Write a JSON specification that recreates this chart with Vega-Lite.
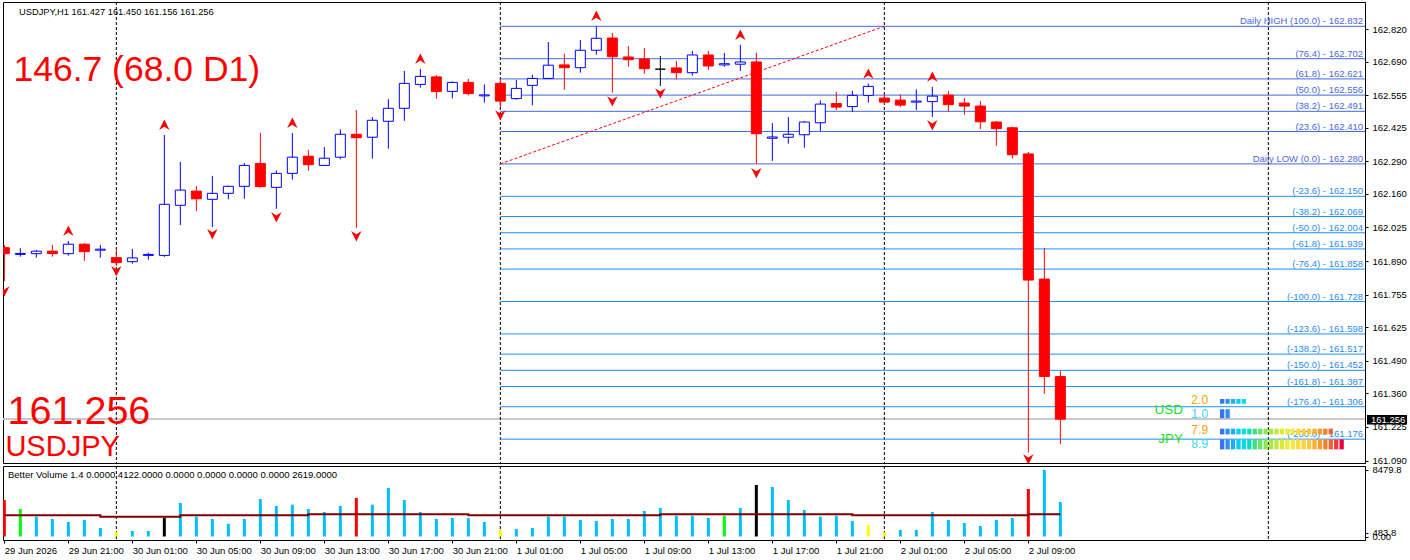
{
  "$schema": "https://vega.github.io/schema/vega-lite/v6.json",
  "background": "white",
  "padding": {"left": 2, "top": 1, "right": 0, "bottom": 0},
  "spacing": 3,
  "bounds": "flush",
  "config": {
    "view": {"stroke": "black", "strokeWidth": 1},
    "font": "Liberation Sans",
    "text": {"font": "Liberation Sans"},
    "scale": {"continuousPadding": 0},
    "axis": {"labelFont": "Liberation Sans", "labelColor": "black", "domainColor": "black", "tickColor": "black", "grid": false, "title": null, "labelOverlap": false, "labelFlush": false, "labelFontSize": 9.5, "tickCount": 200}
  },
  "resolve": {"scale": {"x": "independent", "y": "independent", "color": "independent", "shape": "independent"}},
  "datasets": {
    "candles": [
      {"t":"2026-06-29T17:00","o":161.944,"h":161.955,"l":161.810,"c":161.920,"v":4654,"cat":"climax high","a":2703},
      {"t":"2026-06-29T18:00","o":161.917,"h":161.942,"l":161.908,"c":161.921,"v":3506,"cat":"churn","a":2703},
      {"t":"2026-06-29T19:00","o":161.920,"h":161.935,"l":161.904,"c":161.930,"v":2529,"cat":"neutral","a":2703},
      {"t":"2026-06-29T20:00","o":161.930,"h":161.955,"l":161.908,"c":161.920,"v":2231,"cat":"neutral","a":2703},
      {"t":"2026-06-29T21:00","o":161.920,"h":161.971,"l":161.912,"c":161.958,"v":1849,"cat":"neutral","a":2703},
      {"t":"2026-06-29T22:00","o":161.958,"h":161.962,"l":161.891,"c":161.928,"v":2104,"cat":"neutral","a":2703},
      {"t":"2026-06-29T23:00","o":161.934,"h":161.955,"l":161.904,"c":161.938,"v":1084,"cat":"neutral","a":2512},
      {"t":"2026-06-30T00:00","o":161.904,"h":161.938,"l":161.871,"c":161.884,"v":612,"cat":"low volume","a":2512},
      {"t":"2026-06-30T01:00","o":161.888,"h":161.939,"l":161.880,"c":161.903,"v":701,"cat":"neutral","a":2512},
      {"t":"2026-06-30T02:00","o":161.913,"h":161.924,"l":161.896,"c":161.917,"v":701,"cat":"neutral","a":2512},
      {"t":"2026-06-30T03:00","o":161.913,"h":162.396,"l":161.907,"c":162.118,"v":2397,"cat":"climax low","a":2512},
      {"t":"2026-06-30T04:00","o":162.114,"h":162.288,"l":162.035,"c":162.175,"v":4271,"cat":"neutral","a":2703},
      {"t":"2026-06-30T05:00","o":162.171,"h":162.191,"l":162.091,"c":162.140,"v":2529,"cat":"neutral","a":2703},
      {"t":"2026-06-30T06:00","o":162.138,"h":162.232,"l":162.027,"c":162.162,"v":2231,"cat":"neutral","a":2703},
      {"t":"2026-06-30T07:00","o":162.162,"h":162.193,"l":162.138,"c":162.190,"v":1632,"cat":"neutral","a":2703},
      {"t":"2026-06-30T08:00","o":162.190,"h":162.284,"l":162.140,"c":162.274,"v":2231,"cat":"neutral","a":2703},
      {"t":"2026-06-30T09:00","o":162.282,"h":162.404,"l":162.185,"c":162.189,"v":4781,"cat":"neutral","a":2703},
      {"t":"2026-06-30T10:00","o":162.186,"h":162.254,"l":162.100,"c":162.242,"v":3889,"cat":"neutral","a":2703},
      {"t":"2026-06-30T11:00","o":162.242,"h":162.404,"l":162.217,"c":162.307,"v":4054,"cat":"neutral","a":2703},
      {"t":"2026-06-30T12:00","o":162.311,"h":162.336,"l":162.253,"c":162.277,"v":3506,"cat":"neutral","a":2830},
      {"t":"2026-06-30T13:00","o":162.274,"h":162.348,"l":162.272,"c":162.303,"v":3124,"cat":"neutral","a":2830},
      {"t":"2026-06-30T14:00","o":162.307,"h":162.419,"l":162.299,"c":162.399,"v":3889,"cat":"neutral","a":2830},
      {"t":"2026-06-30T15:00","o":162.399,"h":162.496,"l":162.024,"c":162.385,"v":4909,"cat":"climax high","a":2830},
      {"t":"2026-06-30T16:00","o":162.387,"h":162.468,"l":162.301,"c":162.455,"v":4054,"cat":"neutral","a":2830},
      {"t":"2026-06-30T17:00","o":162.451,"h":162.540,"l":162.341,"c":162.503,"v":6184,"cat":"neutral","a":2830},
      {"t":"2026-06-30T18:00","o":162.503,"h":162.653,"l":162.453,"c":162.603,"v":4654,"cat":"neutral","a":2830},
      {"t":"2026-06-30T19:00","o":162.599,"h":162.661,"l":162.586,"c":162.631,"v":3124,"cat":"neutral","a":2830},
      {"t":"2026-06-30T20:00","o":162.629,"h":162.637,"l":162.542,"c":162.570,"v":2231,"cat":"neutral","a":2830},
      {"t":"2026-06-30T21:00","o":162.571,"h":162.611,"l":162.543,"c":162.607,"v":2359,"cat":"neutral","a":2830},
      {"t":"2026-06-30T22:00","o":162.607,"h":162.621,"l":162.555,"c":162.562,"v":2359,"cat":"neutral","a":2703},
      {"t":"2026-06-30T23:00","o":162.553,"h":162.599,"l":162.526,"c":162.557,"v":1849,"cat":"neutral","a":2703},
      {"t":"2026-07-01T00:00","o":162.603,"h":162.619,"l":162.506,"c":162.532,"v":829,"cat":"low volume","a":2703},
      {"t":"2026-07-01T01:00","o":162.542,"h":162.617,"l":162.538,"c":162.583,"v":956,"cat":"neutral","a":2703},
      {"t":"2026-07-01T02:00","o":162.595,"h":162.637,"l":162.515,"c":162.623,"v":1084,"cat":"neutral","a":2703},
      {"t":"2026-07-01T03:00","o":162.623,"h":162.769,"l":162.621,"c":162.676,"v":2529,"cat":"neutral","a":2703},
      {"t":"2026-07-01T04:00","o":162.677,"h":162.722,"l":162.578,"c":162.666,"v":2529,"cat":"neutral","a":2703},
      {"t":"2026-07-01T05:00","o":162.666,"h":162.777,"l":162.646,"c":162.736,"v":2104,"cat":"neutral","a":2703},
      {"t":"2026-07-01T06:00","o":162.736,"h":162.832,"l":162.718,"c":162.784,"v":1976,"cat":"neutral","a":2703},
      {"t":"2026-07-01T07:00","o":162.785,"h":162.805,"l":162.566,"c":162.710,"v":2231,"cat":"neutral","a":2703},
      {"t":"2026-07-01T08:00","o":162.709,"h":162.753,"l":162.670,"c":162.698,"v":2231,"cat":"neutral","a":2703},
      {"t":"2026-07-01T09:00","o":162.701,"h":162.745,"l":162.642,"c":162.662,"v":3251,"cat":"neutral","a":2703},
      {"t":"2026-07-01T10:00","o":162.660,"h":162.713,"l":162.593,"c":162.660,"v":3634,"cat":"neutral","a":2830},
      {"t":"2026-07-01T11:00","o":162.665,"h":162.693,"l":162.618,"c":162.646,"v":2652,"cat":"neutral","a":2830},
      {"t":"2026-07-01T12:00","o":162.646,"h":162.733,"l":162.634,"c":162.717,"v":2652,"cat":"neutral","a":2830},
      {"t":"2026-07-01T13:00","o":162.717,"h":162.733,"l":162.657,"c":162.673,"v":2359,"cat":"neutral","a":2830},
      {"t":"2026-07-01T14:00","o":162.677,"h":162.725,"l":162.670,"c":162.682,"v":2652,"cat":"churn","a":2830},
      {"t":"2026-07-01T15:00","o":162.680,"h":162.758,"l":162.653,"c":162.689,"v":3634,"cat":"neutral","a":2830},
      {"t":"2026-07-01T16:00","o":162.689,"h":162.726,"l":162.280,"c":162.401,"v":6566,"cat":"climax low","a":2830},
      {"t":"2026-07-01T17:00","o":162.383,"h":162.444,"l":162.292,"c":162.388,"v":6311,"cat":"neutral","a":2830},
      {"t":"2026-07-01T18:00","o":162.387,"h":162.468,"l":162.361,"c":162.399,"v":4654,"cat":"neutral","a":2830},
      {"t":"2026-07-01T19:00","o":162.397,"h":162.452,"l":162.345,"c":162.448,"v":3379,"cat":"neutral","a":2830},
      {"t":"2026-07-01T20:00","o":162.445,"h":162.535,"l":162.412,"c":162.520,"v":2529,"cat":"neutral","a":2830},
      {"t":"2026-07-01T21:00","o":162.522,"h":162.569,"l":162.496,"c":162.508,"v":2652,"cat":"neutral","a":2830},
      {"t":"2026-07-01T22:00","o":162.510,"h":162.573,"l":162.488,"c":162.555,"v":1976,"cat":"neutral","a":2703},
      {"t":"2026-07-01T23:00","o":162.555,"h":162.602,"l":162.526,"c":162.591,"v":1466,"cat":"low volume","a":2703},
      {"t":"2026-07-02T00:00","o":162.544,"h":162.559,"l":162.519,"c":162.528,"v":536,"cat":"low volume","a":2703},
      {"t":"2026-07-02T01:00","o":162.536,"h":162.559,"l":162.508,"c":162.516,"v":829,"cat":"neutral","a":2703},
      {"t":"2026-07-02T02:00","o":162.528,"h":162.579,"l":162.496,"c":162.532,"v":829,"cat":"neutral","a":2703},
      {"t":"2026-07-02T03:00","o":162.530,"h":162.589,"l":162.468,"c":162.552,"v":3124,"cat":"neutral","a":2703},
      {"t":"2026-07-02T04:00","o":162.556,"h":162.573,"l":162.489,"c":162.518,"v":2104,"cat":"neutral","a":2703},
      {"t":"2026-07-02T05:00","o":162.524,"h":162.544,"l":162.477,"c":162.512,"v":1721,"cat":"neutral","a":2703},
      {"t":"2026-07-02T06:00","o":162.512,"h":162.532,"l":162.420,"c":162.449,"v":1339,"cat":"neutral","a":2703},
      {"t":"2026-07-02T07:00","o":162.448,"h":162.452,"l":162.353,"c":162.421,"v":2104,"cat":"neutral","a":2703},
      {"t":"2026-07-02T08:00","o":162.425,"h":162.429,"l":162.301,"c":162.317,"v":2359,"cat":"neutral","a":2703},
      {"t":"2026-07-02T09:00","o":162.320,"h":162.328,"l":161.122,"c":161.814,"v":6056,"cat":"climax high","a":2830},
      {"t":"2026-07-02T10:00","o":161.818,"h":161.943,"l":161.358,"c":161.427,"v":8479.8,"cat":"neutral","a":2830},
      {"t":"2026-07-02T11:00","o":161.427,"h":161.450,"l":161.156,"c":161.256,"v":4399,"cat":"neutral","a":2830}
    ],
    "fractals": [
      {"t":"2026-06-29T21:00","dir":"up","p":162.011},
      {"t":"2026-06-30T03:00","dir":"up","p":162.436},
      {"t":"2026-06-30T11:00","dir":"up","p":162.444},
      {"t":"2026-06-30T19:00","dir":"up","p":162.701},
      {"t":"2026-07-01T06:00","dir":"up","p":162.873},
      {"t":"2026-07-01T15:00","dir":"up","p":162.797},
      {"t":"2026-07-01T23:00","dir":"up","p":162.641},
      {"t":"2026-07-02T03:00","dir":"up","p":162.629},
      {"t":"2026-06-29T17:00","dir":"down","p":161.770},
      {"t":"2026-06-30T00:00","dir":"down","p":161.851},
      {"t":"2026-06-30T06:00","dir":"down","p":161.999},
      {"t":"2026-06-30T10:00","dir":"down","p":162.067},
      {"t":"2026-06-30T15:00","dir":"down","p":161.991},
      {"t":"2026-07-01T00:00","dir":"down","p":162.476},
      {"t":"2026-07-01T07:00","dir":"down","p":162.532},
      {"t":"2026-07-01T10:00","dir":"down","p":162.564},
      {"t":"2026-07-01T16:00","dir":"down","p":162.244},
      {"t":"2026-07-02T03:00","dir":"down","p":162.436},
      {"t":"2026-07-02T09:00","dir":"down","p":161.096}
    ],
    "fibs": [
      {"level":162.832,"label":"Daily HIGH (100.0) -  162.832"},
      {"level":162.702,"label":"(76.4) -  162.702"},
      {"level":162.621,"label":"(61.8) -  162.621"},
      {"level":162.556,"label":"(50.0) -  162.556"},
      {"level":162.491,"label":"(38.2) -  162.491"},
      {"level":162.410,"label":"(23.6) -  162.410"},
      {"level":162.280,"label":"Daily LOW (0.0) -  162.280"},
      {"level":162.150,"label":"(-23.6) -  162.150"},
      {"level":162.069,"label":"(-38.2) -  162.069"},
      {"level":162.004,"label":"(-50.0) -  162.004"},
      {"level":161.939,"label":"(-61.8) -  161.939"},
      {"level":161.858,"label":"(-76.4) -  161.858"},
      {"level":161.728,"label":"(-100.0) -  161.728"},
      {"level":161.598,"label":"(-123.6) -  161.598"},
      {"level":161.517,"label":"(-138.2) -  161.517"},
      {"level":161.452,"label":"(-150.0) -  161.452"},
      {"level":161.387,"label":"(-161.8) -  161.387"},
      {"level":161.306,"label":"(-176.4) -  161.306"},
      {"level":161.176,"label":"(-200.0) -  161.176"}
    ],
    "days": [
      {"t":"2026-06-30T00:00"},
      {"t":"2026-07-01T00:00"},
      {"t":"2026-07-02T00:00"},
      {"t":"2026-07-03T00:00"}
    ],
    "dayrange": [
      {"t":"2026-07-01T00:00","p":162.280},
      {"t":"2026-07-02T00:00","p":162.832}
    ],
    "meter": [
      {"row":"USD 2.0","j":0},{"row":"USD 2.0","j":1},{"row":"USD 2.0","j":2},{"row":"USD 2.0","j":3},{"row":"USD 2.0","j":4},
      {"row":"USD 1.0","j":0},{"row":"USD 1.0","j":1},
      {"row":"JPY 7.9","j":0},{"row":"JPY 7.9","j":1},{"row":"JPY 7.9","j":2},{"row":"JPY 7.9","j":3},{"row":"JPY 7.9","j":4},
      {"row":"JPY 7.9","j":5},{"row":"JPY 7.9","j":6},{"row":"JPY 7.9","j":7},{"row":"JPY 7.9","j":8},{"row":"JPY 7.9","j":9},
      {"row":"JPY 7.9","j":10},{"row":"JPY 7.9","j":11},{"row":"JPY 7.9","j":12},{"row":"JPY 7.9","j":13},{"row":"JPY 7.9","j":14},
      {"row":"JPY 7.9","j":15},{"row":"JPY 7.9","j":16},{"row":"JPY 7.9","j":17},{"row":"JPY 7.9","j":18},{"row":"JPY 7.9","j":19},
      {"row":"JPY 7.9","j":20},
      {"row":"JPY 8.9","j":0},{"row":"JPY 8.9","j":1},{"row":"JPY 8.9","j":2},{"row":"JPY 8.9","j":3},{"row":"JPY 8.9","j":4},
      {"row":"JPY 8.9","j":5},{"row":"JPY 8.9","j":6},{"row":"JPY 8.9","j":7},{"row":"JPY 8.9","j":8},{"row":"JPY 8.9","j":9},
      {"row":"JPY 8.9","j":10},{"row":"JPY 8.9","j":11},{"row":"JPY 8.9","j":12},{"row":"JPY 8.9","j":13},{"row":"JPY 8.9","j":14},
      {"row":"JPY 8.9","j":15},{"row":"JPY 8.9","j":16},{"row":"JPY 8.9","j":17},{"row":"JPY 8.9","j":18},{"row":"JPY 8.9","j":19},
      {"row":"JPY 8.9","j":20},{"row":"JPY 8.9","j":21},{"row":"JPY 8.9","j":22}
    ]
  },
  "vconcat": [
    {
      "width": 1362,
      "height": 461,
      "resolve": {"scale": {"x": "independent", "color": "independent"}, "axis": {"x": "independent"}},
      "layer": [
        {
          "layer": [
            {
              "data": {"name": "candles"},
              "mark": {"type": "rule", "color": "#c8c8cc", "strokeWidth": 1},
              "encoding": {"y": {"datum": 161.256, "type": "quantitative",
                  "scale": {"domain": [161.0803, 162.9295], "nice": false, "zero": false, "padding": 0},
                  "axis": {"orient": "right", "values": [162.82, 162.69, 162.555, 162.425, 162.29, 162.16, 162.025, 161.89, 161.755, 161.625, 161.49, 161.36, 161.225, 161.09],
                    "format": ".3f", "tickSize": 3, "tickCount": 200, "labelFontSize": 9.5, "labelPadding": 4, "labelOverlap": false, "labelFlush": false}}}
            },
            {
              "data": {"name": "days"},
              "mark": {"type": "rule", "color": "black", "strokeDash": [3, 2], "strokeWidth": 1},
              "encoding": {
                "x": {"field": "t", "type": "temporal",
                  "scale": {"domain": [{"year":2026,"month":6,"date":29,"hours":16,"minutes":55}, {"year":2026,"month":7,"date":3,"hours":6,"minutes":2,"seconds":30}], "padding": 0, "nice": false},
                  "axis": null}
              }
            },
            {
              "data": {"name": "fibs"},
              "mark": {"type": "rule", "strokeWidth": 1, "clip": true},
              "encoding": {
                "x": {"datum": {"year":2026,"month":7,"date":1,"hours":0}, "type": "temporal"},
                "x2": {"datum": {"year":2026,"month":7,"date":3,"hours":12}},
                "y": {"field": "level", "type": "quantitative"},
                "color": {"condition": {"test": "datum.level >= 162.28", "value": "#4169e1"}, "value": "#1e90ff"}
              }
            },
            {
              "data": {"name": "fibs"},
              "mark": {"type": "text", "align": "right", "baseline": "alphabetic", "dx": -2, "dy": -2, "fontSize": 9.5},
              "encoding": {
                "x": {"datum": {"year":2026,"month":7,"date":3,"hours":6,"minutes":2,"seconds":30}, "type": "temporal"},
                "y": {"field": "level", "type": "quantitative"},
                "text": {"field": "label"},
                "color": {"condition": {"test": "datum.level >= 162.28", "value": "#4a68dc"}, "value": "#2a8cf0"}
              }
            },
            {
              "data": {"name": "dayrange"},
              "mark": {"type": "line", "color": "#ff0000", "strokeWidth": 1, "strokeDash": [3, 2]},
              "encoding": {
                "x": {"field": "t", "type": "temporal"},
                "y": {"field": "p", "type": "quantitative"}
              }
            },
            {
              "data": {"name": "candles"},
              "mark": {"type": "rule", "strokeWidth": 1, "clip": true},
              "encoding": {
                "x": {"field": "t", "type": "temporal"},
                "y": {"field": "l", "type": "quantitative"},
                "y2": {"field": "h"},
                "color": {"condition": [{"test": "datum.c > datum.o", "value": "#0000ff"}, {"test": "datum.c == datum.o", "value": "#000000"}], "value": "#ff0000"}
              }
            },
            {
              "data": {"name": "candles"},
              "mark": {"type": "bar", "width": 10, "strokeWidth": 1, "clip": true},
              "encoding": {
                "x": {"field": "t", "type": "temporal", "scale": {"padding": 0}},
                "y": {"field": "o", "type": "quantitative"},
                "y2": {"field": "c"},
                "fill": {"condition": {"test": "datum.c < datum.o", "value": "#ff0000"}, "value": "#ffffff"},
                "stroke": {"condition": [{"test": "datum.c > datum.o", "value": "#0000ff"}, {"test": "datum.c == datum.o", "value": "#000000"}], "value": "#ff0000"}
              }
            },
            {
              "data": {"name": "fractals"},
              "mark": {"type": "point", "filled": true, "color": "#ff0000", "size": 120, "opacity": 1, "clip": true},
              "encoding": {
                "x": {"field": "t", "type": "temporal"},
                "y": {"field": "p", "type": "quantitative"},
                "shape": {"field": "dir", "type": "nominal", "legend": null,
                  "scale": {"domain": ["up", "down"], "range": ["M0,-1L0.95,0.9L0,0.3L-0.95,0.9Z", "M0,1L0.95,-0.9L0,-0.3L-0.95,-0.9Z"]}}
              }
            },
            {
              "data": {"values": [{}]},
              "mark": {"type": "text", "align": "left", "baseline": "alphabetic", "fontSize": 9.3, "color": "black"},
              "encoding": {
                "x": {"datum": {"year":2026,"month":6,"date":29,"hours":17,"minutes":55}, "type": "temporal"},
                "y": {"datum": 162.8773, "type": "quantitative"},
                "text": {"value": "USDJPY,H1  161.427 161.450 161.156 161.256"}
              }
            },
            {
              "data": {"values": [{}]},
              "mark": {"type": "text", "align": "left", "baseline": "alphabetic", "fontSize": 35.5, "color": "#ff0000"},
              "encoding": {
                "x": {"datum": {"year":2026,"month":6,"date":29,"hours":17,"minutes":34}, "type": "temporal"},
                "y": {"datum": 162.6126, "type": "quantitative"},
                "text": {"value": "146.7 (68.0 D1)"}
              }
            },
            {
              "data": {"values": [{}]},
              "mark": {"type": "text", "align": "left", "baseline": "alphabetic", "fontSize": 39.5, "color": "#ff0000"},
              "encoding": {
                "x": {"datum": {"year":2026,"month":6,"date":29,"hours":17,"minutes":12}, "type": "temporal"},
                "y": {"datum": 161.2368, "type": "quantitative"},
                "text": {"value": "161.256"}
              }
            },
            {
              "data": {"values": [{}]},
              "mark": {"type": "text", "align": "left", "baseline": "alphabetic", "fontSize": 29, "color": "#ff0000"},
              "encoding": {
                "x": {"datum": {"year":2026,"month":6,"date":29,"hours":17,"minutes":4}, "type": "temporal"},
                "y": {"datum": 161.1084, "type": "quantitative"},
                "text": {"value": "USDJPY"}
              }
            },
            {
              "data": {"values": [{}]},
              "mark": {"type": "rect", "color": "#000000", "clip": false},
              "encoding": {
                "x": {"datum": {"year":2026,"month":7,"date":3,"hours":6,"minutes":10}, "type": "temporal"},
                "x2": {"datum": {"year":2026,"month":7,"date":3,"hours":8,"minutes":40}},
                "y": {"datum": 161.273, "type": "quantitative"},
                "y2": {"datum": 161.235}
              }
            },
            {
              "data": {"values": [{}]},
              "mark": {"type": "text", "align": "left", "baseline": "middle", "fontSize": 9.5, "color": "#ffffff"},
              "encoding": {
                "x": {"datum": {"year":2026,"month":7,"date":3,"hours":6,"minutes":25}, "type": "temporal"},
                "y": {"datum": 161.254, "type": "quantitative"},
                "text": {"value": "161.256"}
              }
            }
          ]
        },
        {
          "layer": [
            {
              "data": {"name": "meter"},
              "transform": [{"filter": "datum.row == 'USD 2.0'"}],
              "mark": {"type": "bar", "width": 4.3},
              "encoding": {
                "x": {"field": "j", "type": "quantitative", "scale": {"domain": [-224.5, 26.3], "nice": false, "zero": false, "padding": 0}, "axis": null},
                "y": {"datum": 161.337, "type": "quantitative"},
                "y2": {"datum": 161.318},
                "color": {"field": "j", "type": "quantitative", "legend": null,
                  "scale": {"domain": [0, 1.5, 3.5, 6, 9, 12.5, 16, 18.5, 21], "range": ["#3a72f0", "#3a9af0", "#30d8f4", "#40e080", "#a8e640", "#f4ee40", "#f8c840", "#f89030", "#f03a3a"]}}
              }
            },
            {
              "data": {"name": "meter"},
              "transform": [{"filter": "datum.row == 'USD 1.0'"}],
              "mark": {"type": "bar", "width": 4.3},
              "encoding": {
                "x": {"field": "j", "type": "quantitative"},
                "y": {"datum": 161.296, "type": "quantitative"},
                "y2": {"datum": 161.260},
                "color": {"field": "j", "type": "quantitative", "legend": null}
              }
            },
            {
              "data": {"name": "meter"},
              "transform": [{"filter": "datum.row == 'JPY 7.9'"}],
              "mark": {"type": "bar", "width": 4.3},
              "encoding": {
                "x": {"field": "j", "type": "quantitative"},
                "y": {"datum": 161.218, "type": "quantitative"},
                "y2": {"datum": 161.195},
                "color": {"field": "j", "type": "quantitative", "legend": null}
              }
            },
            {
              "data": {"name": "meter"},
              "transform": [{"filter": "datum.row == 'JPY 8.9'"}],
              "mark": {"type": "bar", "width": 4.3},
              "encoding": {
                "x": {"field": "j", "type": "quantitative"},
                "y": {"datum": 161.175, "type": "quantitative"},
                "y2": {"datum": 161.135},
                "color": {"field": "j", "type": "quantitative", "legend": null}
              }
            },
            {
              "data": {"values": [{"s": "USD", "p": 161.2757}, {"s": "JPY", "p": 161.1605}]},
              "mark": {"type": "text", "align": "right", "baseline": "alphabetic", "fontSize": 13.5, "color": "#22dd22"},
              "encoding": {
                "x": {"datum": -7.2, "type": "quantitative"},
                "y": {"field": "p", "type": "quantitative"},
                "text": {"field": "s"}
              }
            },
            {
              "data": {"values": [{"s": "2.0", "p": 161.316}, {"s": "7.9", "p": 161.195}]},
              "mark": {"type": "text", "align": "right", "baseline": "alphabetic", "fontSize": 12, "color": "#ffa500"},
              "encoding": {
                "x": {"datum": -2.6, "type": "quantitative"},
                "y": {"field": "p", "type": "quantitative"},
                "text": {"field": "s"}
              }
            },
            {
              "data": {"values": [{"s": "1.0", "p": 161.262}, {"s": "8.9", "p": 161.142}]},
              "mark": {"type": "text", "align": "right", "baseline": "alphabetic", "fontSize": 12, "color": "#38d8f0"},
              "encoding": {
                "x": {"datum": -2.6, "type": "quantitative"},
                "y": {"field": "p", "type": "quantitative"},
                "text": {"field": "s"}
              }
            }
          ]
        }
      ]
    },
    {
      "width": 1362,
      "height": 74,
      "layer": [
        {
          "data": {"name": "days"},
          "mark": {"type": "rule", "color": "black", "strokeDash": [3, 2], "strokeWidth": 1},
          "encoding": {
            "x": {"field": "t", "type": "temporal",
              "scale": {"domain": [{"year":2026,"month":6,"date":29,"hours":16,"minutes":55}, {"year":2026,"month":7,"date":3,"hours":6,"minutes":2,"seconds":30}], "padding": 0, "nice": false},
              "axis": {"orient": "bottom",
                "values": [
                  {"year":2026,"month":6,"date":29,"hours":17},{"year":2026,"month":6,"date":29,"hours":21},
                  {"year":2026,"month":6,"date":30,"hours":1},{"year":2026,"month":6,"date":30,"hours":5},{"year":2026,"month":6,"date":30,"hours":9},
                  {"year":2026,"month":6,"date":30,"hours":13},{"year":2026,"month":6,"date":30,"hours":17},{"year":2026,"month":6,"date":30,"hours":21},
                  {"year":2026,"month":7,"date":1,"hours":1},{"year":2026,"month":7,"date":1,"hours":5},{"year":2026,"month":7,"date":1,"hours":9},
                  {"year":2026,"month":7,"date":1,"hours":13},{"year":2026,"month":7,"date":1,"hours":17},{"year":2026,"month":7,"date":1,"hours":21},
                  {"year":2026,"month":7,"date":2,"hours":1},{"year":2026,"month":7,"date":2,"hours":5},{"year":2026,"month":7,"date":2,"hours":9}
                ],
                "labelExpr": "datum.index == 0 ? '29 Jun 2026' : timeFormat(datum.value, '%-d %b %H:%M')",
                "labelAlign": "left", "labelPadding": 2, "tickSize": 3, "tickCount": 200, "labelFontSize": 9.5, "labelOverlap": false, "labelFlush": false}}
          }
        },
        {
          "data": {"name": "candles"},
          "mark": {"type": "bar", "width": 3, "clip": true},
          "encoding": {
            "x": {"field": "t", "type": "temporal", "scale": {"padding": 0}},
            "y": {"field": "v", "type": "quantitative",
              "scale": {"domain": [-446, 8989], "nice": false, "zero": false},
              "axis": {"orient": "right", "values": [0, 483.8, 8479.8],
                "labelExpr": "datum.value == 0 ? '0.00' : format(datum.value, '.1f')",
                "tickSize": 3, "tickCount": 200, "labelFontSize": 9.5, "labelPadding": 4, "labelOverlap": false, "labelFlush": false}},
            "y2": {"datum": 0},
            "color": {"field": "cat", "type": "nominal", "legend": null,
              "scale": {"domain": ["neutral", "climax high", "climax low", "churn", "low volume"], "range": ["#00bfff", "#ff0000", "#000000", "#00ff00", "#ffff00"]}}
          }
        },
        {
          "data": {"name": "candles"},
          "mark": {"type": "line", "interpolate": "step-after", "color": "#800000", "strokeWidth": 2, "clip": true},
          "encoding": {
            "x": {"field": "t", "type": "temporal"},
            "y": {"field": "a", "type": "quantitative"}
          }
        },
        {
          "data": {"values": [{}]},
          "mark": {"type": "text", "align": "left", "baseline": "alphabetic", "fontSize": 9.5, "color": "black"},
          "encoding": {
            "x": {"datum": {"year":2026,"month":6,"date":29,"hours":17,"minutes":13,"seconds":45}, "type": "temporal"},
            "y": {"datum": 7522, "type": "quantitative"},
            "text": {"value": "Better Volume 1.4 0.0000 4122.0000 0.0000 0.0000 0.0000 0.0000 2619.0000"}
          }
        }
      ]
    }
  ]
}
